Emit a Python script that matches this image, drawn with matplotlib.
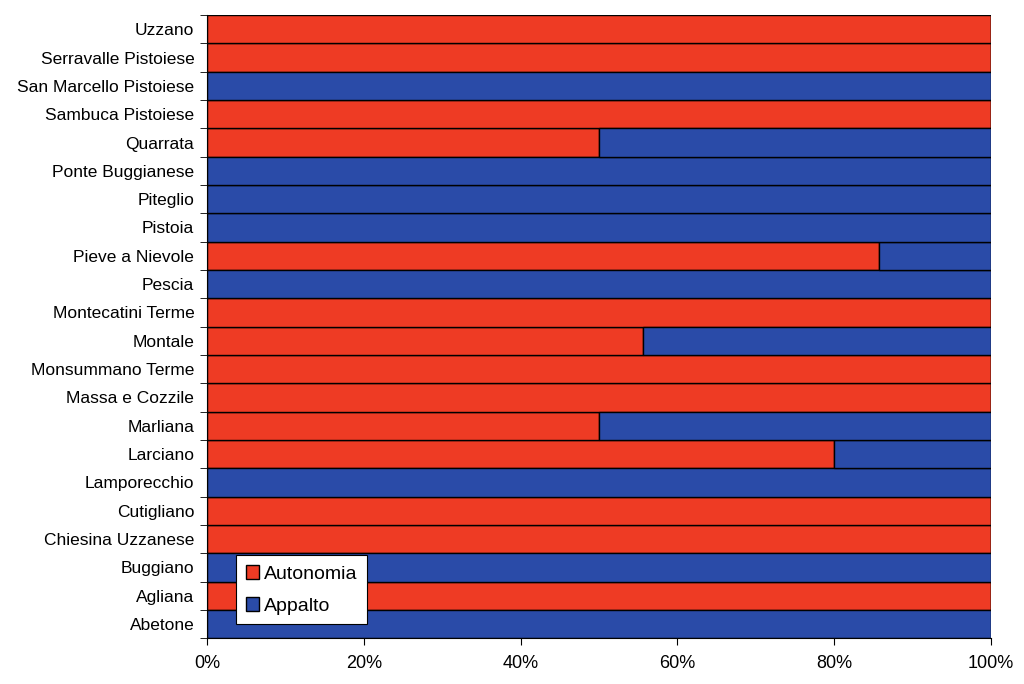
import numpy as np
import matplotlib
matplotlib.use("Agg")
from matplotlib import pyplot as plt
from matplotlib.ticker import PercentFormatter

plt.rcParams['font.family'] = ['Liberation Sans', 'DejaVu Sans']

# comuni, from bottom to top
comuni = ['Abetone', 'Agliana', 'Buggiano', 'Chiesina Uzzanese', 'Cutigliano',
          'Lamporecchio', 'Larciano', 'Marliana', 'Massa e Cozzile',
          'Monsummano Terme', 'Montale', 'Montecatini Terme', 'Pescia',
          'Pieve a Nievole', 'Pistoia', 'Piteglio', 'Ponte Buggianese',
          'Quarrata', 'Sambuca Pistoiese', 'San Marcello Pistoiese',
          'Serravalle Pistoiese', 'Uzzano']
# share in autonomia (%)
autonomia = [0, 100, 0, 100, 100, 0, 80, 50, 100, 100, 55.6, 100, 0,
             85.7, 0, 0, 0, 50, 100, 0, 100, 100]
appalto = [100 - a for a in autonomia]

red = '#EE3B24'
blue = '#2A4BA8'

fig = plt.figure(figsize=(10.24, 6.84), dpi=100)
ax = fig.add_axes([0.202, 0.067, 0.766, 0.911])

y = np.arange(len(comuni))
ax.barh(y, autonomia, height=1.0, color=red, edgecolor='black', linewidth=1.0,
        label='Autonomia')
ax.barh(y, appalto, left=autonomia, height=1.0, color=blue, edgecolor='black',
        linewidth=1.0, label='Appalto')

ax.set_xlim(0, 100)
ax.set_ylim(-0.5, len(comuni) - 0.5)
ax.set_yticks(y)
ax.set_yticklabels(comuni, fontsize=12.5)
ax.set_xticks([0, 20, 40, 60, 80, 100])
ax.xaxis.set_major_formatter(PercentFormatter(decimals=0))
ax.tick_params(axis='x', labelsize=13, length=5, direction='out', pad=7)
# y ticks sit between categories
ax.set_yticks(np.arange(-0.5, len(comuni), 1.0), minor=True)
ax.tick_params(axis='y', which='major', length=0, pad=9)
ax.tick_params(axis='y', which='minor', length=5, direction='out')
for s in ['top', 'right']:
    ax.spines[s].set_visible(False)

leg = ax.legend(loc='lower left', bbox_to_anchor=(0.037, 0.022), fontsize=14,
                frameon=True, fancybox=False, edgecolor='black', framealpha=1,
                handlelength=0.7, handleheight=0.7, handletextpad=0.25,
                borderpad=0.5, labelspacing=0.75, borderaxespad=0)
leg.get_frame().set_linewidth(0.8)

fig.savefig('out.png', dpi=100)
